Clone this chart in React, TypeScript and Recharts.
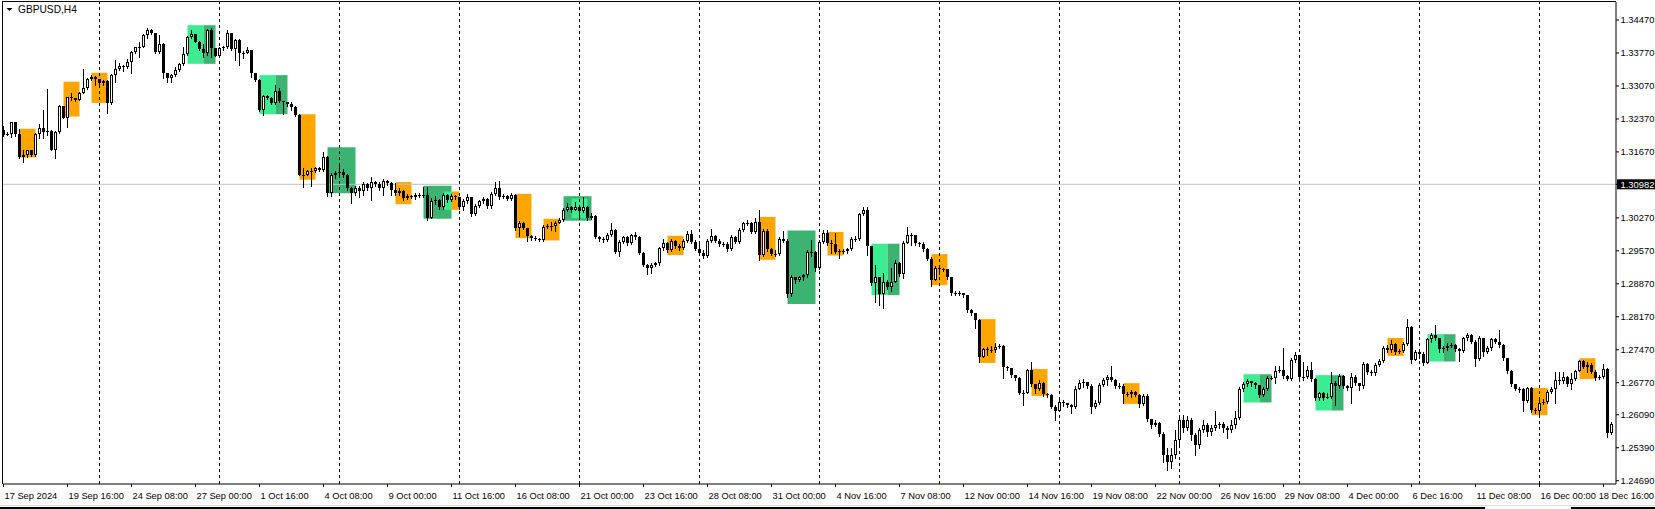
import { ComposedChart, Bar, XAxis, YAxis, ReferenceArea, ReferenceLine } from 'recharts';

const FONT = '"Liberation Sans", Arial, sans-serif';

// GBPUSD H4 candles, 17 Sep 2024 00:00 .. 19 Dec 2024 00:00
const firstOpen = 1.3213;

const closes = [
    1.3203, 1.3206, 1.3230, 1.3204, 1.3157, 1.3160, 1.3171, 1.3160, 1.3206, 1.3218,
    1.3210, 1.3212, 1.3172, 1.3210, 1.3264, 1.3240, 1.3283, 1.3281, 1.3278, 1.3293,
    1.3302, 1.3321, 1.3327, 1.3321, 1.3314, 1.3317, 1.3271, 1.3330, 1.3344, 1.3349,
    1.3348, 1.3358, 1.3380, 1.3389, 1.3389, 1.3415, 1.3426, 1.3419, 1.3380, 1.3397,
    1.3334, 1.3323, 1.3330, 1.3341, 1.3353, 1.3374, 1.3410, 1.3417, 1.3401, 1.3385,
    1.3376, 1.3426, 1.3387, 1.3371, 1.3387, 1.3389, 1.3419, 1.3385, 1.3404, 1.3376,
    1.3378, 1.3383, 1.3334, 1.3319, 1.3256, 1.3285, 1.3281, 1.3270, 1.3296, 1.3275,
    1.3272, 1.3268, 1.3263, 1.3245, 1.3118, 1.3119, 1.3126, 1.3126, 1.3133, 1.3128,
    1.3157, 1.3079, 1.3118, 1.3122, 1.3125, 1.3118, 1.3090, 1.3080, 1.3091, 1.3083,
    1.3099, 1.3090, 1.3103, 1.3099, 1.3090, 1.3106, 1.3101, 1.3087, 1.3080, 1.3085,
    1.3069, 1.3074, 1.3072, 1.3076, 1.3076, 1.3075, 1.3027, 1.3062, 1.3065, 1.3050,
    1.3076, 1.3065, 1.3074, 1.3071, 1.3050, 1.3062, 1.3071, 1.3035, 1.3052, 1.3062,
    1.3066, 1.3052, 1.3078, 1.3090, 1.3071, 1.3074, 1.3067, 1.3076, 1.3005, 1.3015,
    1.3005, 1.2989, 1.2984, 1.2982, 1.2980, 1.3008, 1.3010, 1.3010, 1.3016, 1.3022,
    1.3044, 1.3050, 1.3044, 1.3050, 1.3042, 1.3050, 1.3027, 1.3031, 1.2987, 1.2982,
    1.2980, 1.2991, 1.3001, 1.2955, 1.2976, 1.2986, 1.2973, 1.2991, 1.2986, 1.2953,
    1.2927, 1.2920, 1.2927, 1.2931, 1.2962, 1.2974, 1.2959, 1.2978, 1.2967, 1.2962,
    1.2978, 1.2993, 1.2976, 1.2960, 1.2953, 1.2946, 1.2978, 1.2989, 1.2978, 1.2971,
    1.2971, 1.2960, 1.2987, 1.2976, 1.3001, 1.3016, 1.3016, 1.2998, 1.3019, 1.2948,
    1.2999, 1.2960, 1.2950, 1.2950, 1.2982, 1.2978, 1.2865, 1.2901, 1.2895, 1.2901,
    1.2906, 1.2955, 1.2955, 1.2920, 1.2976, 1.2994, 1.2973, 1.2971, 1.2955, 1.2957,
    1.2957, 1.2960, 1.2983, 1.2983, 1.3035, 1.3044, 1.2967, 1.2888, 1.2901, 1.2865,
    1.2891, 1.2880, 1.2891, 1.2932, 1.2908, 1.2974, 1.2991, 1.2991, 1.2973, 1.2971,
    1.2960, 1.2940, 1.2895, 1.2920, 1.2918, 1.2918, 1.2901, 1.2867, 1.2867, 1.2868,
    1.2863, 1.2831, 1.2824, 1.2810, 1.2732, 1.2748, 1.2746, 1.2747, 1.2753, 1.2755,
    1.2710, 1.2708, 1.2694, 1.2686, 1.2656, 1.2656, 1.2704, 1.2675, 1.2664, 1.2677,
    1.2653, 1.2651, 1.2626, 1.2618, 1.2637, 1.2634, 1.2630, 1.2625, 1.2664, 1.2677,
    1.2678, 1.2669, 1.2626, 1.2635, 1.2672, 1.2683, 1.2689, 1.2683, 1.2670, 1.2670,
    1.2653, 1.2653, 1.2658, 1.2651, 1.2632, 1.2649, 1.2599, 1.2587, 1.2592, 1.2568,
    1.2523, 1.2509, 1.2523, 1.2555, 1.2598, 1.2581, 1.2598, 1.2566, 1.2545, 1.2577,
    1.2587, 1.2572, 1.2581, 1.2587, 1.2589, 1.2581, 1.2577, 1.2587, 1.2602, 1.2664,
    1.2674, 1.2681, 1.2676, 1.2672, 1.2650, 1.2664, 1.2688, 1.2688, 1.2702, 1.2704,
    1.2692, 1.2685, 1.2725, 1.2735, 1.2690, 1.2689, 1.2704, 1.2685, 1.2644, 1.2655,
    1.2645, 1.2647, 1.2677, 1.2669, 1.2692, 1.2671, 1.2666, 1.2690, 1.2676, 1.2669,
    1.2716, 1.2699, 1.2697, 1.2715, 1.2723, 1.2751, 1.2746, 1.2760, 1.2742, 1.2744,
    1.2759, 1.2796, 1.2725, 1.2742, 1.2738, 1.2718, 1.2770, 1.2778, 1.2771, 1.2749,
    1.2751, 1.2756, 1.2757, 1.2749, 1.2744, 1.2772, 1.2778, 1.2764, 1.2727, 1.2772,
    1.2743, 1.2750, 1.2770, 1.2764, 1.2757, 1.2729, 1.2702, 1.2674, 1.2664, 1.2663,
    1.2638, 1.2665, 1.2619, 1.2617, 1.2635, 1.2637, 1.2657, 1.2664, 1.2683, 1.2681,
    1.2690, 1.2674, 1.2685, 1.2702, 1.2723, 1.2711, 1.2715, 1.2700, 1.2688, 1.2689,
    1.2706, 1.2571, 1.2590,
];

const highs = [
    1.3221, 1.3210, 1.3231, 1.3231, 1.3215, 1.3171, 1.3172, 1.3171, 1.3208, 1.3227,
    1.3256, 1.3300, 1.3213, 1.3211, 1.3266, 1.3265, 1.3284, 1.3291, 1.3282, 1.3294,
    1.3344, 1.3323, 1.3330, 1.3329, 1.3320, 1.3320, 1.3319, 1.3332, 1.3362, 1.3356,
    1.3351, 1.3365, 1.3381, 1.3390, 1.3401, 1.3417, 1.3431, 1.3428, 1.3419, 1.3415,
    1.3398, 1.3334, 1.3332, 1.3348, 1.3355, 1.3390, 1.3412, 1.3426, 1.3418, 1.3402,
    1.3395, 1.3427, 1.3429, 1.3388, 1.3390, 1.3391, 1.3426, 1.3420, 1.3406, 1.3406,
    1.3381, 1.3390, 1.3384, 1.3335, 1.3321, 1.3288, 1.3288, 1.3283, 1.3309, 1.3303,
    1.3276, 1.3273, 1.3272, 1.3265, 1.3247, 1.3132, 1.3128, 1.3132, 1.3135, 1.3134,
    1.3167, 1.3158, 1.3122, 1.3126, 1.3137, 1.3131, 1.3120, 1.3092, 1.3095, 1.3095,
    1.3103, 1.3101, 1.3114, 1.3105, 1.3103, 1.3110, 1.3108, 1.3103, 1.3101, 1.3091,
    1.3086, 1.3078, 1.3076, 1.3080, 1.3080, 1.3093, 1.3093, 1.3069, 1.3074, 1.3067,
    1.3080, 1.3078, 1.3078, 1.3076, 1.3072, 1.3067, 1.3078, 1.3072, 1.3057, 1.3065,
    1.3072, 1.3069, 1.3082, 1.3103, 1.3105, 1.3078, 1.3076, 1.3080, 1.3078, 1.3020,
    1.3018, 1.3005, 1.2991, 1.2989, 1.2984, 1.3012, 1.3014, 1.3019, 1.3020, 1.3027,
    1.3048, 1.3059, 1.3052, 1.3061, 1.3050, 1.3072, 1.3052, 1.3038, 1.3033, 1.2989,
    1.2987, 1.2995, 1.3017, 1.3003, 1.2980, 1.2989, 1.2989, 1.2993, 1.2997, 1.2989,
    1.2954, 1.2929, 1.2931, 1.2933, 1.2965, 1.2982, 1.2976, 1.2982, 1.2980, 1.2971,
    1.2982, 1.2999, 1.3001, 1.2980, 1.2971, 1.2959, 1.2982, 1.3003, 1.2991, 1.2982,
    1.2976, 1.2976, 1.2991, 1.2989, 1.3006, 1.3018, 1.3022, 1.3018, 1.3027, 1.3044,
    1.3003, 1.3003, 1.2963, 1.2959, 1.2987, 1.2999, 1.2982, 1.2906, 1.2901, 1.2904,
    1.2908, 1.2959, 1.2980, 1.2957, 1.2980, 1.3001, 1.3001, 1.2980, 1.2995, 1.2961,
    1.2961, 1.2963, 1.2987, 1.2989, 1.3037, 1.3051, 1.3050, 1.2967, 1.2927, 1.2901,
    1.2910, 1.2895, 1.2920, 1.2938, 1.2933, 1.2978, 1.3008, 1.2995, 1.2991, 1.2976,
    1.2976, 1.2963, 1.2944, 1.2925, 1.2923, 1.2920, 1.2918, 1.2901, 1.2872, 1.2872,
    1.2867, 1.2863, 1.2833, 1.2825, 1.2812, 1.2751, 1.2753, 1.2755, 1.2761, 1.2759,
    1.2757, 1.2713, 1.2708, 1.2691, 1.2689, 1.2662, 1.2706, 1.2721, 1.2675, 1.2683,
    1.2679, 1.2655, 1.2653, 1.2630, 1.2640, 1.2640, 1.2634, 1.2632, 1.2669, 1.2683,
    1.2685, 1.2678, 1.2674, 1.2640, 1.2676, 1.2687, 1.2693, 1.2712, 1.2685, 1.2676,
    1.2674, 1.2657, 1.2662, 1.2659, 1.2653, 1.2653, 1.2653, 1.2600, 1.2598, 1.2594,
    1.2572, 1.2538, 1.2538, 1.2577, 1.2602, 1.2609, 1.2606, 1.2602, 1.2570, 1.2581,
    1.2598, 1.2591, 1.2587, 1.2617, 1.2594, 1.2594, 1.2585, 1.2598, 1.2617, 1.2668,
    1.2679, 1.2685, 1.2681, 1.2679, 1.2672, 1.2668, 1.2691, 1.2691, 1.2712, 1.2712,
    1.2750, 1.2693, 1.2729, 1.2742, 1.2736, 1.2721, 1.2712, 1.2721, 1.2687, 1.2657,
    1.2657, 1.2655, 1.2699, 1.2681, 1.2696, 1.2693, 1.2672, 1.2698, 1.2693, 1.2676,
    1.2721, 1.2719, 1.2704, 1.2719, 1.2727, 1.2755, 1.2757, 1.2768, 1.2761, 1.2749,
    1.2763, 1.2812, 1.2797, 1.2746, 1.2744, 1.2742, 1.2772, 1.2783, 1.2799, 1.2772,
    1.2755, 1.2761, 1.2761, 1.2759, 1.2751, 1.2774, 1.2783, 1.2781, 1.2768, 1.2776,
    1.2772, 1.2755, 1.2772, 1.2772, 1.2789, 1.2759, 1.2729, 1.2704, 1.2672, 1.2668,
    1.2666, 1.2668, 1.2668, 1.2623, 1.2640, 1.2642, 1.2661, 1.2668, 1.2700, 1.2700,
    1.2700, 1.2691, 1.2697, 1.2704, 1.2725, 1.2725, 1.2721, 1.2719, 1.2704, 1.2693,
    1.2717, 1.2708, 1.2594,
];

const lows = [
    1.3201, 1.3203, 1.3199, 1.3201, 1.3153, 1.3146, 1.3157, 1.3159, 1.3159, 1.3196,
    1.3196, 1.3203, 1.3171, 1.3155, 1.3208, 1.3238, 1.3220, 1.3277, 1.3275, 1.3277,
    1.3291, 1.3301, 1.3320, 1.3309, 1.3309, 1.3309, 1.3249, 1.3268, 1.3316, 1.3341,
    1.3339, 1.3346, 1.3334, 1.3378, 1.3369, 1.3389, 1.3408, 1.3417, 1.3378, 1.3378,
    1.3323, 1.3316, 1.3315, 1.3329, 1.3339, 1.3351, 1.3373, 1.3409, 1.3400, 1.3384,
    1.3369, 1.3373, 1.3369, 1.3370, 1.3371, 1.3383, 1.3387, 1.3384, 1.3362, 1.3351,
    1.3366, 1.3376, 1.3327, 1.3318, 1.3254, 1.3245, 1.3279, 1.3268, 1.3268, 1.3272,
    1.3247, 1.3265, 1.3256, 1.3244, 1.3117, 1.3093, 1.3117, 1.3095, 1.3124, 1.3126,
    1.3127, 1.3074, 1.3074, 1.3112, 1.3114, 1.3114, 1.3086, 1.3059, 1.3076, 1.3072,
    1.3076, 1.3086, 1.3065, 1.3095, 1.3086, 1.3076, 1.3097, 1.3076, 1.3076, 1.3076,
    1.3065, 1.3068, 1.3069, 1.3068, 1.3072, 1.3072, 1.3023, 1.3027, 1.3057, 1.3046,
    1.3046, 1.3061, 1.3063, 1.3067, 1.3046, 1.3044, 1.3059, 1.3031, 1.3033, 1.3050,
    1.3059, 1.3048, 1.3048, 1.3076, 1.3067, 1.3069, 1.3065, 1.3065, 1.3001, 1.2989,
    1.3003, 1.2978, 1.2980, 1.2980, 1.2978, 1.2978, 1.3006, 1.3001, 1.2999, 1.3016,
    1.3020, 1.3042, 1.3040, 1.3044, 1.3027, 1.3040, 1.3023, 1.3025, 1.2984, 1.2978,
    1.2976, 1.2978, 1.2989, 1.2952, 1.2945, 1.2974, 1.2969, 1.2971, 1.2982, 1.2950,
    1.2925, 1.2908, 1.2909, 1.2925, 1.2927, 1.2959, 1.2955, 1.2957, 1.2963, 1.2959,
    1.2961, 1.2976, 1.2974, 1.2959, 1.2950, 1.2942, 1.2944, 1.2976, 1.2976, 1.2967,
    1.2967, 1.2957, 1.2959, 1.2974, 1.2974, 1.2999, 1.3012, 1.2995, 1.2995, 1.2938,
    1.2946, 1.2957, 1.2948, 1.2946, 1.2948, 1.2976, 1.2859, 1.2861, 1.2889, 1.2893,
    1.2895, 1.2901, 1.2945, 1.2914, 1.2918, 1.2974, 1.2969, 1.2952, 1.2952, 1.2942,
    1.2952, 1.2952, 1.2959, 1.2978, 1.2980, 1.3033, 1.2948, 1.2884, 1.2849, 1.2842,
    1.2835, 1.2876, 1.2872, 1.2897, 1.2904, 1.2899, 1.2974, 1.2969, 1.2969, 1.2967,
    1.2957, 1.2938, 1.2882, 1.2895, 1.2908, 1.2914, 1.2897, 1.2863, 1.2863, 1.2863,
    1.2859, 1.2827, 1.2821, 1.2793, 1.2721, 1.2732, 1.2736, 1.2743, 1.2743, 1.2751,
    1.2686, 1.2704, 1.2689, 1.2683, 1.2653, 1.2630, 1.2655, 1.2670, 1.2655, 1.2661,
    1.2649, 1.2647, 1.2623, 1.2598, 1.2617, 1.2628, 1.2626, 1.2613, 1.2623, 1.2664,
    1.2668, 1.2666, 1.2613, 1.2623, 1.2632, 1.2670, 1.2672, 1.2681, 1.2666, 1.2666,
    1.2634, 1.2649, 1.2647, 1.2649, 1.2625, 1.2630, 1.2596, 1.2581, 1.2585, 1.2564,
    1.2509, 1.2492, 1.2496, 1.2517, 1.2545, 1.2572, 1.2577, 1.2555, 1.2524, 1.2538,
    1.2572, 1.2564, 1.2566, 1.2577, 1.2581, 1.2572, 1.2560, 1.2572, 1.2581, 1.2600,
    1.2659, 1.2670, 1.2670, 1.2666, 1.2647, 1.2649, 1.2661, 1.2685, 1.2676, 1.2700,
    1.2687, 1.2683, 1.2683, 1.2721, 1.2687, 1.2683, 1.2687, 1.2681, 1.2640, 1.2640,
    1.2640, 1.2645, 1.2645, 1.2630, 1.2666, 1.2666, 1.2662, 1.2634, 1.2672, 1.2662,
    1.2666, 1.2695, 1.2693, 1.2693, 1.2712, 1.2721, 1.2742, 1.2742, 1.2738, 1.2740,
    1.2742, 1.2757, 1.2719, 1.2725, 1.2729, 1.2714, 1.2719, 1.2764, 1.2768, 1.2742,
    1.2742, 1.2746, 1.2753, 1.2744, 1.2723, 1.2742, 1.2768, 1.2761, 1.2712, 1.2725,
    1.2734, 1.2740, 1.2746, 1.2761, 1.2753, 1.2725, 1.2698, 1.2670, 1.2662, 1.2657,
    1.2617, 1.2636, 1.2615, 1.2613, 1.2606, 1.2632, 1.2634, 1.2655, 1.2634, 1.2674,
    1.2676, 1.2670, 1.2664, 1.2683, 1.2702, 1.2709, 1.2700, 1.2698, 1.2683, 1.2685,
    1.2687, 1.2561, 1.2568,
];

const timeLabels = [
    '17 Sep 2024', '19 Sep 16:00', '24 Sep 08:00', '27 Sep 00:00', '1 Oct 16:00',
    '4 Oct 08:00', '9 Oct 00:00', '11 Oct 16:00', '16 Oct 08:00', '21 Oct 00:00',
    '23 Oct 16:00', '28 Oct 08:00', '31 Oct 00:00', '4 Nov 16:00', '7 Nov 08:00',
    '12 Nov 00:00', '14 Nov 16:00', '19 Nov 08:00', '22 Nov 00:00', '26 Nov 16:00',
    '29 Nov 08:00', '4 Dec 00:00', '6 Dec 16:00', '11 Dec 08:00', '16 Dec 00:00',
    '18 Dec 16:00',
];
const BARS_PER_LABEL = 16;

const priceTicks = [
    1.3447, 1.3377, 1.3307, 1.3237, 1.3167, 1.3027, 1.2957,
    1.2887, 1.2817, 1.2747, 1.2677, 1.2609, 1.2539, 1.2469,
];
const markerPrice = 1.30982;

// bar index of each Monday 00:00
const weekStarts = [24, 54, 84, 114, 144, 174, 204, 234, 264, 294, 324, 354, 384];

// rectangles drawn on the chart: [from bar, to bar, top price, bottom price, kind]
type ZoneKind = 'orange' | 'dark' | 'light';
const zones: [number, number, number, number, ZoneKind][] = [
    [4, 8, 1.3216, 1.3155, 'orange'],
    [15, 19, 1.3316, 1.3242, 'orange'],
    [22, 26, 1.3335, 1.3271, 'orange'],
    [46, 50, 1.3436, 1.3354, 'light'],
    [50, 53, 1.3436, 1.3354, 'dark'],
    [64, 68, 1.3330, 1.3247, 'light'],
    [68, 71, 1.3330, 1.3247, 'dark'],
    [74, 78, 1.3247, 1.3108, 'orange'],
    [81, 88, 1.3177, 1.3079, 'dark'],
    [98, 102, 1.3103, 1.3056, 'orange'],
    [105, 112, 1.3095, 1.3025, 'dark'],
    [110, 112, 1.3083, 1.3044, 'light'],
    [112, 114, 1.3083, 1.3044, 'orange'],
    [128, 132, 1.3078, 1.2984, 'orange'],
    [135, 139, 1.3025, 1.2979, 'orange'],
    [140, 147, 1.3073, 1.3021, 'dark'],
    [142, 146, 1.3068, 1.3026, 'light'],
    [166, 170, 1.2989, 1.2948, 'orange'],
    [189, 193, 1.3029, 1.2938, 'orange'],
    [196, 203, 1.3000, 1.2844, 'dark'],
    [206, 210, 1.2997, 1.2947, 'orange'],
    [217, 221, 1.2972, 1.2863, 'light'],
    [221, 224, 1.2972, 1.2863, 'dark'],
    [232, 236, 1.2950, 1.2884, 'orange'],
    [244, 248, 1.2812, 1.2719, 'orange'],
    [257, 261, 1.2706, 1.2649, 'orange'],
    [280, 284, 1.2676, 1.2632, 'orange'],
    [310, 314, 1.2695, 1.2635, 'light'],
    [314, 317, 1.2695, 1.2635, 'dark'],
    [328, 332, 1.2693, 1.2618, 'light'],
    [332, 335, 1.2693, 1.2618, 'dark'],
    [346, 350, 1.2772, 1.2734, 'orange'],
    [356, 360, 1.2780, 1.2722, 'light'],
    [360, 363, 1.2780, 1.2722, 'dark'],
    [382, 386, 1.2666, 1.2608, 'orange'],
    [394, 398, 1.2729, 1.2685, 'orange'],
];

const ZONE_FILL: Record<ZoneKind, string> = {
    orange: '#ffa500',
    dark: '#3cb371',
    light: '#3deb91',
};

const rows = closes.map((close, i) => {
    const open = i === 0 ? firstOpen : closes[i - 1];
    const high = Math.max(highs[i], open, close);
    const low = Math.min(lows[i], open, close);
    return { i, open, close, high, low, range: [low, high] };
});

const timeTicks = timeLabels.map((_, k) => k * BARS_PER_LABEL);

// plot box in page pixels
const CHART_W = 1655;
const PLOT_LEFT = 3;
const PLOT_RIGHT = 1616;
const PLOT_TOP = 2;
const PLOT_BOTTOM = 484;
const BAR_STEP = 4;
const FIRST_CENTER = 3.5;
const PX_PER_UNIT = 4710.6;
const Y_TOP = 1.3447 + (20 - PLOT_TOP) / PX_PER_UNIT;
const Y_BOTTOM = Y_TOP - (PLOT_BOTTOM - PLOT_TOP) / PX_PER_UNIT;

function Candle(props: any) {
    const { x, width, y, height, payload } = props;
    if (!payload) return null;
    const { open, close, high, low } = payload;
    const top = Math.min(y, y + height);
    const span = Math.abs(height);
    const k = high > low ? span / (high - low) : 0;
    const py = (v: number) => top + (high - v) * k;
    const cx = Math.floor(x + width / 2) + 0.5;
    const bt = Math.round(Math.min(py(open), py(close)));
    const bb = Math.round(Math.max(py(open), py(close)));
    const up = close >= open;
    let body;
    if (bb - bt <= 1) {
        body = <rect x={cx - 1.5} y={bt} width={3} height={1} fill="#000" />;
    } else if (up) {
        body = <rect x={cx - 1} y={bt + 0.5} width={2} height={bb - bt - 1} fill="#fff" stroke="#000" />;
    } else {
        body = <rect x={cx - 1.5} y={bt} width={3} height={bb - bt} fill="#000" />;
    }
    return (
        <g>
            <line x1={cx} x2={cx} y1={Math.round(top)} y2={Math.round(top + span) + 1} stroke="#000" />
            {body}
        </g>
    );
}

function TimeTick({ x, payload }: any) {
    const k = Math.round(payload.value / BARS_PER_LABEL);
    const last = k === timeLabels.length - 1;
    return (
        <text
            x={last ? CHART_W - 1 : x + 1}
            y={499}
            fontSize={9.3}
            fontFamily={FONT}
            fill="#000"
            textAnchor={last ? 'end' : 'start'}
        >
            {timeLabels[k]}
        </text>
    );
}

function PriceTick({ x, y, payload }: any) {
    const isMarker = payload.value === markerPrice;
    return (
        <g>
            {isMarker && <rect x={PLOT_RIGHT + 1} y={y - 5} width={38} height={10} fill="#000" />}
            <text
                x={x - 0.5}
                y={y}
                dy="0.35em"
                fontSize={9.4}
                fontFamily={FONT}
                fill={isMarker ? '#fff' : '#000'}
            >
                {payload.value.toFixed(5)}
            </text>
        </g>
    );
}

export default function App() {
    return (
        <div style={{ position: 'relative', width: CHART_W, height: 509, background: '#fff', overflow: 'hidden' }}>
            <style>{'body{margin:0}'}</style>
            <ComposedChart
                width={CHART_W}
                height={509}
                data={rows}
                margin={{ top: PLOT_TOP, right: 0, bottom: 509 - PLOT_BOTTOM - 20, left: PLOT_LEFT }}
            >
                <XAxis
                    dataKey="i"
                    type="number"
                    domain={[(PLOT_LEFT - FIRST_CENTER) / BAR_STEP, (PLOT_RIGHT - FIRST_CENTER) / BAR_STEP]}
                    allowDataOverflow
                    ticks={timeTicks}
                    interval={0}
                    height={20}
                    tickSize={3}
                    tickLine={{ stroke: '#000' }}
                    axisLine={{ stroke: '#000' }}
                    tick={<TimeTick />}
                />
                <YAxis
                    orientation="right"
                    type="number"
                    width={CHART_W - PLOT_RIGHT}
                    domain={[Y_BOTTOM, Y_TOP]}
                    allowDataOverflow
                    ticks={[...priceTicks, markerPrice]}
                    interval={0}
                    tickSize={3}
                    tickLine={{ stroke: '#000' }}
                    axisLine={{ stroke: '#000' }}
                    tick={<PriceTick />}
                />
                {zones.map(([from, to, hi, lo, kind], n) => (
                    <ReferenceArea
                        key={'z' + n}
                        x1={from}
                        x2={to}
                        y1={lo}
                        y2={hi}
                        fill={ZONE_FILL[kind]}
                        fillOpacity={1}
                        stroke="none"
                        ifOverflow="visible"
                        zIndex={100}
                    />
                ))}
                {weekStarts.map((w) => (
                    <ReferenceLine
                        key={'w' + w}
                        x={w}
                        stroke="#000"
                        strokeDasharray="3 3"
                        zIndex={150}
                    />
                ))}
                <ReferenceLine y={markerPrice} stroke="#c0c0c0" zIndex={150} />
                <Bar
                    dataKey="range"
                    barSize={3}
                    shape={<Candle />}
                    isAnimationActive={false}
                    zIndex={300}
                />
            </ComposedChart>
            {/* chart frame */}
            <div style={{ position: 'absolute', left: 2, top: 1, width: PLOT_RIGHT - 2, height: 1, background: '#000' }} />
            <div style={{ position: 'absolute', left: 2, top: 1, width: 1, height: PLOT_BOTTOM - 1, background: '#000' }} />
            {/* symbol caption */}
            <svg style={{ position: 'absolute', left: 0, top: 0 }} width={90} height={16}>
                <polygon points="6.5,8 12.5,8 9.5,11" fill="#000" />
                <text x={18} y={13} fontSize={10.2} fontFamily={FONT} fill="#000">
                    GBPUSD,H4
                </text>
            </svg>
            {/* window bottom edge */}
            <div style={{ position: 'absolute', left: 0, top: 505, width: CHART_W, height: 1, background: '#dcdcdc' }} />
            <div style={{ position: 'absolute', left: 0, top: 507, width: 1485, height: 2, background: '#000' }} />
            <div style={{ position: 'absolute', left: 1571, top: 507, width: 84, height: 2, background: '#000' }} />
        </div>
    );
}
